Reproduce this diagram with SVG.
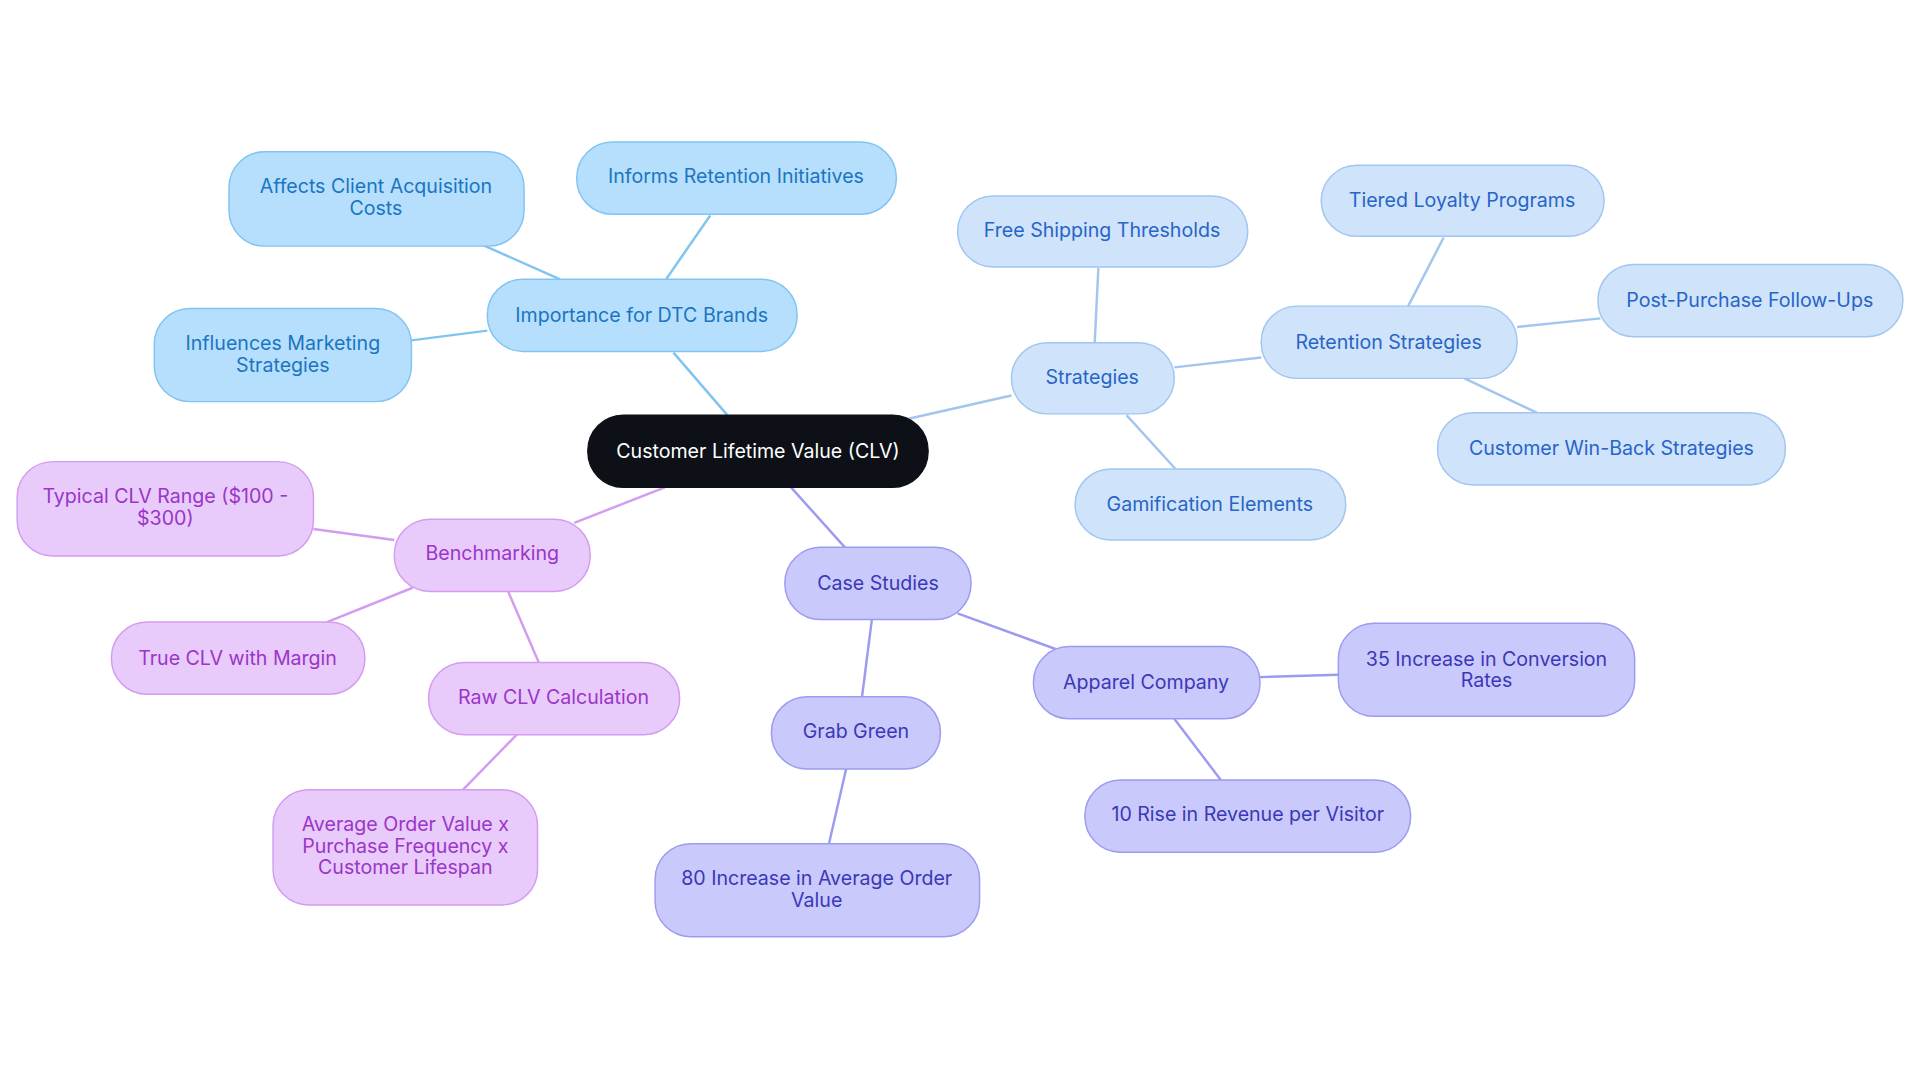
<svg xmlns="http://www.w3.org/2000/svg" width="1920" height="1083" viewBox="0 0 1920 1083">
<style>
text{font-family:Inter,"Noto Sans",sans-serif;font-size:16px;text-anchor:middle;dominant-baseline:central}
.c rect{fill:#0d1117;stroke:#0d1117}.c text{fill:#fff}
.a rect{fill:#b5dffc;stroke:#82c4f0;stroke-width:1.2}.a text{fill:#1b75c2}
.s rect{fill:#cfe3fa;stroke:#a2c6ef;stroke-width:1.2}.s text{fill:#2765c8}
.k rect{fill:#c9c9fb;stroke:#9c9bf0;stroke-width:1.2}.k text{fill:#3b38b8}
.b rect{fill:#e8cafb;stroke:#d39cf1;stroke-width:1.2}.b text{fill:#9a36c8}
#edges line{stroke-width:2;fill:none}
.ea{stroke:#82c4f0}.es{stroke:#a2c6ef}.ek{stroke:#9c9bf0}.eb{stroke:#d39cf1}
</style>
<rect width="1920" height="1083" fill="#fff"/>
<g transform="scale(1.22449)">
<g id="edges">
<line class="ea" x1="594" y1="339" x2="550" y2="288"/>
<line class="ea" x1="457" y1="228" x2="394" y2="200"/>
<line class="ea" x1="544" y1="228" x2="580" y2="176"/>
<line class="ea" x1="398" y1="270" x2="336" y2="278"/>
<line class="es" x1="742" y1="342" x2="826" y2="323"/>
<line class="es" x1="894" y1="280" x2="897" y2="219"/>
<line class="es" x1="920" y1="339" x2="960" y2="383"/>
<line class="es" x1="959" y1="300" x2="1030" y2="292"/>
<line class="es" x1="1150" y1="250" x2="1179" y2="194"/>
<line class="es" x1="1239" y1="267" x2="1307" y2="260"/>
<line class="es" x1="1196" y1="309" x2="1255" y2="337"/>
<line class="ek" x1="646" y1="398" x2="690" y2="447"/>
<line class="ek" x1="782" y1="501" x2="862" y2="530"/>
<line class="ek" x1="1029" y1="553" x2="1093" y2="551"/>
<line class="ek" x1="959" y1="587" x2="997" y2="637"/>
<line class="ek" x1="712" y1="506" x2="704" y2="569"/>
<line class="ek" x1="691" y1="628" x2="677" y2="689"/>
<line class="eb" x1="543" y1="398" x2="469" y2="427"/>
<line class="eb" x1="322" y1="441" x2="256" y2="432"/>
<line class="eb" x1="337" y1="480" x2="267" y2="508"/>
<line class="eb" x1="415" y1="483" x2="440" y2="541"/>
<line class="eb" x1="422" y1="600" x2="378" y2="645"/>
</g>
<g id="n0" class="c"><rect x="480" y="339" width="278" height="59" rx="29"/><text x="619" y="368">Customer Lifetime Value (CLV)</text></g>
<g id="n1" class="a"><rect x="398" y="228" width="253" height="59" rx="29"/><text x="524" y="257">Importance for DTC Brands</text></g>
<g id="n2" class="a"><rect x="187" y="124" width="241" height="77" rx="29"/><text x="307" y="152">Affects Client Acquisition</text><text x="307" y="170">Costs</text></g>
<g id="n3" class="a"><rect x="471" y="116" width="261" height="59" rx="29"/><text x="601" y="144">Informs Retention Initiatives</text></g>
<g id="n4" class="a"><rect x="126" y="252" width="210" height="76" rx="29"/><text x="231" y="280">Influences Marketing</text><text x="231" y="298">Strategies</text></g>
<g id="n5" class="s"><rect x="826" y="280" width="133" height="58" rx="29"/><text x="892" y="308">Strategies</text></g>
<g id="n6" class="s"><rect x="782" y="160" width="237" height="58" rx="29"/><text x="900" y="188">Free Shipping Thresholds</text></g>
<g id="n7" class="s"><rect x="878" y="383" width="221" height="58" rx="29"/><text x="988" y="412">Gamification Elements</text></g>
<g id="n8" class="s"><rect x="1030" y="250" width="209" height="59" rx="29"/><text x="1134" y="279">Retention Strategies</text></g>
<g id="n9" class="s"><rect x="1079" y="135" width="231" height="58" rx="29"/><text x="1194" y="163">Tiered Loyalty Programs</text></g>
<g id="n10" class="s"><rect x="1305" y="216" width="249" height="59" rx="29"/><text x="1429" y="245">Post-Purchase Follow-Ups</text></g>
<g id="n11" class="s"><rect x="1174" y="337" width="284" height="59" rx="29"/><text x="1316" y="366">Customer Win-Back Strategies</text></g>
<g id="n12" class="k"><rect x="641" y="447" width="152" height="59" rx="29"/><text x="717" y="476">Case Studies</text></g>
<g id="n13" class="k"><rect x="844" y="528" width="185" height="59" rx="29"/><text x="936" y="557">Apparel Company</text></g>
<g id="n14" class="k"><rect x="1093" y="509" width="242" height="76" rx="29"/><text x="1214" y="538">35 Increase in Conversion</text><text x="1214" y="555">Rates</text></g>
<g id="n15" class="k"><rect x="886" y="637" width="266" height="59" rx="29"/><text x="1019" y="665">10 Rise in Revenue per Visitor</text></g>
<g id="n16" class="k"><rect x="630" y="569" width="138" height="59" rx="29"/><text x="699" y="597">Grab Green</text></g>
<g id="n17" class="k"><rect x="535" y="689" width="265" height="76" rx="29"/><text x="667" y="717">80 Increase in Average Order</text><text x="667" y="735">Value</text></g>
<g id="n18" class="b"><rect x="322" y="424" width="160" height="59" rx="29"/><text x="402" y="452">Benchmarking</text></g>
<g id="n19" class="b"><rect x="14" y="377" width="242" height="77" rx="29"/><text x="135" y="405">Typical CLV Range ($100 -</text><text x="135" y="423">$300)</text></g>
<g id="n20" class="b"><rect x="91" y="508" width="207" height="59" rx="29"/><text x="194" y="537">True CLV with Margin</text></g>
<g id="n21" class="b"><rect x="350" y="541" width="205" height="59" rx="29"/><text x="452" y="569">Raw CLV Calculation</text></g>
<g id="n22" class="b"><rect x="223" y="645" width="216" height="94" rx="29"/><text x="331" y="673">Average Order Value x</text><text x="331" y="691">Purchase Frequency x</text><text x="331" y="708">Customer Lifespan</text></g>
</g>
</svg>
